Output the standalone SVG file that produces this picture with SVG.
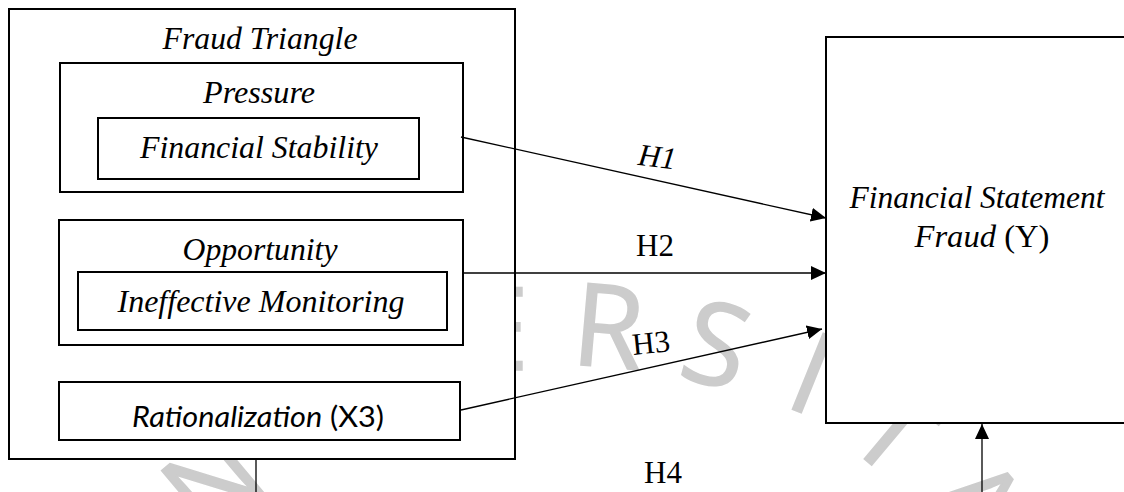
<svg xmlns="http://www.w3.org/2000/svg" width="1124" height="492" viewBox="0 0 1124 492">
<style>
.box{fill:#fff;stroke:#000;stroke-width:2}
.t{font-family:"Liberation Serif","Times New Roman",serif;font-size:31px;fill:#000;text-anchor:middle}
.i{font-style:italic}
.wm{font-family:"Open Sans","DejaVu Sans",sans-serif;font-size:115px;fill:#cccccc;stroke:#cccccc;stroke-width:1.5;text-anchor:middle}
.c{fill:none;stroke:#000;stroke-width:1.3}
</style>
<defs>
<marker id="ah" markerUnits="userSpaceOnUse" markerWidth="16" markerHeight="14" refX="15" refY="7" orient="auto">
<path d="M0,0 L15,7 L0,14 z" fill="#000"/>
</marker>
</defs>
<rect width="1124" height="492" fill="#fff"/>
<g id="watermark">
<text class="wm" transform="translate(239,513) rotate(-40)">N</text>
<text class="wm" transform="translate(497,370)">E</text>
<text class="wm" transform="translate(605,367) rotate(5)">R</text>
<text class="wm" transform="translate(706,384) rotate(15)">S</text>
<text class="wm" transform="translate(797,411) rotate(22)">I</text>
<text class="wm" transform="translate(868,462) rotate(40)">T</text>
<text class="wm" transform="translate(947,529) rotate(50)">A</text>
</g>
<g id="fraud-triangle">
<rect class="box" x="9" y="9" width="506" height="450"/>
<text class="t i" x="260" y="49" textLength="195" lengthAdjust="spacingAndGlyphs">Fraud Triangle</text>
</g>
<g id="pressure">
<rect class="box" x="60" y="63" width="403" height="129"/>
<text class="t i" x="259" y="103" textLength="112" lengthAdjust="spacingAndGlyphs">Pressure</text>
</g>
<g id="financial-stability">
<rect class="box" x="98" y="118" width="321" height="61"/>
<text class="t i" x="259" y="158" textLength="238" lengthAdjust="spacingAndGlyphs">Financial Stability</text>
</g>
<g id="opportunity">
<rect class="box" x="59" y="220" width="404" height="125"/>
<text class="t i" x="260" y="260" textLength="155" lengthAdjust="spacingAndGlyphs">Opportunity</text>
</g>
<g id="ineffective-monitoring">
<rect class="box" x="78" y="272" width="369" height="58"/>
<text class="t i" x="261" y="312" textLength="287" lengthAdjust="spacingAndGlyphs">Ineffective Monitoring</text>
</g>
<g id="rationalization">
<rect class="box" x="59" y="382" width="401" height="58"/>
<text x="258" y="427" text-anchor="middle" font-family="Lato,'Open Sans',sans-serif" font-size="29" fill="#000" textLength="252" lengthAdjust="spacingAndGlyphs"><tspan font-style="italic">Rationalization</tspan> (X3)</text>
</g>
<g id="financial-statement-fraud">
<rect class="box" x="826" y="37" width="320" height="386"/>
<text class="t i" x="977" y="208" textLength="255" lengthAdjust="spacingAndGlyphs">Financial Statement</text>
<text class="t" x="982" y="247" textLength="135" lengthAdjust="spacingAndGlyphs"><tspan font-style="italic">Fraud</tspan> (Y)</text>
</g>
<g id="connectors">
<line class="c" x1="461" y1="137" x2="826" y2="218" marker-end="url(#ah)"/>
<line class="c" x1="463" y1="273" x2="826" y2="273" marker-end="url(#ah)"/>
<line class="c" x1="461" y1="410" x2="822" y2="329" marker-end="url(#ah)"/>
<line class="c" x1="982" y1="492" x2="982" y2="424" marker-end="url(#ah)"/>
<line class="c" x1="256" y1="459" x2="256" y2="492"/>
<text class="t i" transform="translate(656,167) rotate(7)">H1</text>
<text class="t" x="655" y="256">H2</text>
<text class="t" transform="translate(652,353) rotate(-6)">H3</text>
<text class="t" x="663" y="483">H4</text>
</g>
</svg>
